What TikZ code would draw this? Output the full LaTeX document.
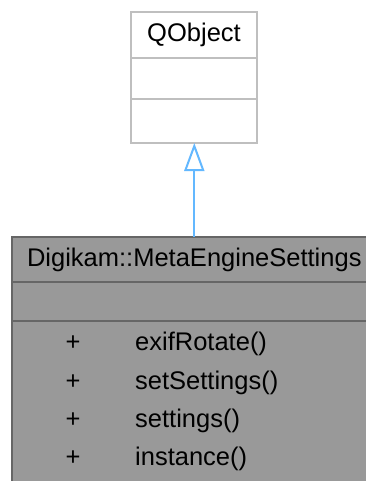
\documentclass[tikz,border=0pt]{standalone}
\usepackage{fontspec}
\setmainfont{Liberation Sans}
\usetikzlibrary{positioning,arrows.meta}
\definecolor{qgray}{HTML}{BFBFBF}
\definecolor{efill}{HTML}{999999}
\definecolor{edraw}{HTML}{666666}
\definecolor{inherit}{HTML}{63B8FF}
\tikzset{
  qcell/.style={draw=qgray,fill=white,line width=2pt,minimum width=126pt,inner sep=0pt,outer sep=0pt},
  ecell/.style={draw=edraw,fill=efill,line width=2pt,minimum width=365pt,inner sep=0pt,outer sep=0pt},
  member/.style={anchor=base west,inner sep=0pt},
  vis/.style={anchor=base,inner sep=0pt}
}
\begin{document}
\begin{tikzpicture}[x=1pt,y=-1pt,font=\fontsize{25.5}{30}\selectfont]
  \useasboundingbox[fill=white] (0,0) rectangle (366,481);
  \clip (0,0) rectangle (366,481);
  % base class
  \node[qcell,minimum height=46pt] (qname) at (194,35) {QObject};
  \node[qcell,minimum height=40.6pt,below=0pt of qname] (qattr) {};
  \node[qcell,minimum height=44.4pt,below=0pt of qattr] (qops) {};
  % derived class
  \node[ecell,minimum height=45.6pt] (ename) at (194.3,259.5) {Digikam::MetaEngineSettings};
  \node[ecell,minimum height=38.7pt,below=0pt of ename] (eattr) {};
  \node[ecell,minimum height=175pt,below=0pt of eattr] (eops) {};
  \node[vis] (p1) at (73,350) {+};
  \node[member] (m1) at (135,350) {exifRotate()};
  \node[vis] (p2) at (73,389) {+};
  \node[member] (m2) at (135,389) {setSettings()};
  \node[vis] (p3) at (73,427) {+};
  \node[member] (m3) at (135,427) {settings()};
  \node[vis] (p4) at (73,465) {+};
  \node[member] (m4) at (135,465) {instance()};
  \draw[inherit,line width=2pt,-{Triangle[open,length=28pt,width=20pt]}] (ename.north) -- (ename.north |- qops.south);
\end{tikzpicture}
\end{document}
